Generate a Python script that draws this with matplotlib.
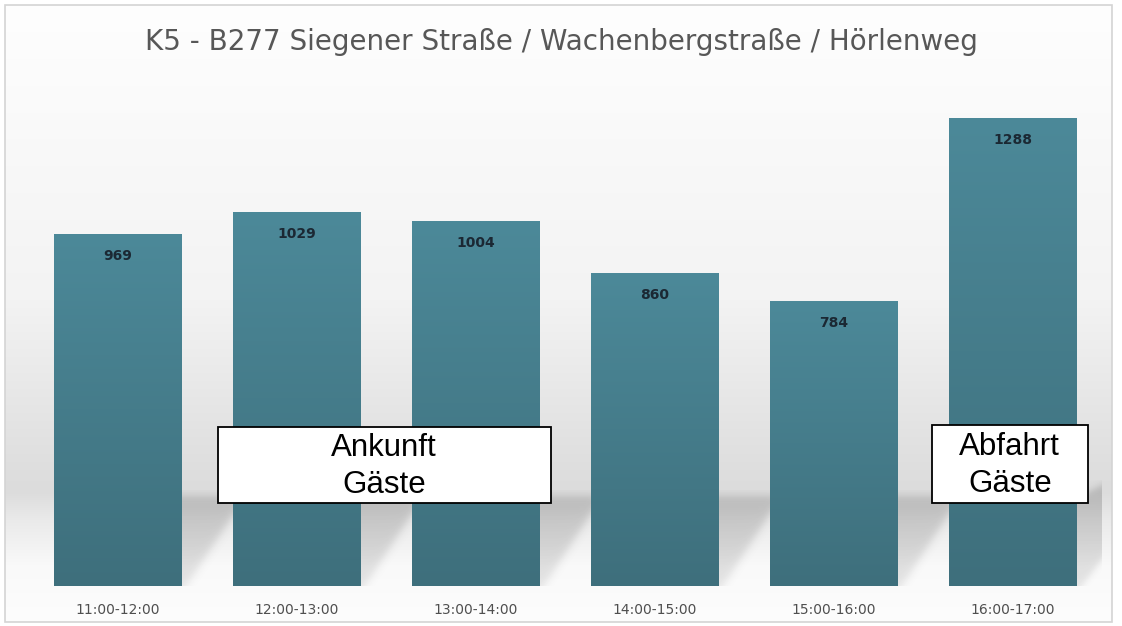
import numpy as np
import matplotlib
matplotlib.use("Agg")
import matplotlib.pyplot as plt
from matplotlib.patches import Rectangle
from matplotlib.colors import LinearSegmentedColormap

# ---- data ----
categories = ["11:00-12:00", "12:00-13:00", "13:00-14:00",
              "14:00-15:00", "15:00-16:00", "16:00-17:00"]
values = [969, 1029, 1004, 860, 784, 1288]
title = "K5 - B277 Siegener Straße / Wachenbergstraße / Hörlenweg"
box_texts = ["Ankunft\nGäste", "Abfahrt\nGäste"]

W, H = 1122, 626
fig = plt.figure(figsize=(W / 100, H / 100), dpi=100)
fig.patch.set_facecolor("white")

# ---- background (pixel coordinates) ----
bg = fig.add_axes([0, 0, 1, 1], zorder=0)
bg.set_xlim(0, W)
bg.set_ylim(H, 0)
bg.axis("off")
ys = np.array([5, 300, 470, 492, 520, 565, 622])
cs = np.array([254, 243, 222, 220, 234, 249, 253]) / 255.0
yy = np.arange(5, 623)
col = np.interp(yy, ys, cs)
img = np.repeat(col[:, None], 2, axis=1)
img = np.dstack([img, img, img])
bg.imshow(img, extent=[5, 1112, 622, 5], aspect="auto", interpolation="bilinear", zorder=0)
bg.add_patch(Rectangle((5, 5), 1107, 617, fill=False, edgecolor="#d4d4d4", lw=1.2, zorder=1))

# ---- main axes ----
ax = fig.add_axes([28 / W, 40 / H, 1074 / W, 486 / H], zorder=1)
ax.patch.set_alpha(0)
x = np.arange(len(categories))
for s in ax.spines.values():
    s.set_visible(False)
ax.set_yticks([])
ax.set_xticks(x)
ax.set_xticklabels(categories, fontsize=10, color="#4f4f4f", family="DejaVu Sans")
ax.tick_params(axis="x", length=0, pad=12)

bw = 0.71
bars = ax.bar(x, values, width=bw, color="none", edgecolor="none", zorder=3)

px_x = 1 / 179.0        # data units per pixel (x)
px_y = 1337 / 486.0     # data units per pixel (y)


def soft_shadow(w, h, t_top, x_line, soft=3.0, strength=0.2):
    """RGBA image (rows top->bottom) of a soft grey shadow, in pixel units."""
    xp = np.arange(w) + 0.5
    tp = np.arange(h) + 0.5
    XP, TP = np.meshgrid(xp, tp)
    top = 1 / (1 + np.exp(-(TP - t_top(XP)) / 2.5))
    decay = np.interp(TP, [0, 20, 60, h], [1.0, 0.95, 0.75, 0.5])
    side = 1 / (1 + np.exp((XP - x_line(TP)) / soft))
    a = np.clip(top * decay * side * strength, 0, 1)
    rgba = np.zeros((h, w, 4))
    rgba[..., :3] = 0.15
    rgba[..., 3] = a
    return rgba


y_top_px = 586 - 490   # shadow band top above baseline (pixels)
for i, b in enumerate(bars):
    xr = b.get_x() + b.get_width()
    if i < len(bars) - 1:
        w = int(round((bars[i + 1].get_x() - xr) / px_x))
        h = y_top_px
        rgba = soft_shadow(w, h, lambda X: 6 + 0 * X,
                           lambda T: 5 + (h - T) * (w - 5) / (h - 24))
    else:
        w = 36
        h = y_top_px + 10
        rgba = soft_shadow(w, h, lambda X: 18 - X * 0.5,
                           lambda T: 6 + (h - T) * 30 / 40, soft=2.5)
    ax.imshow(rgba, extent=[xr, xr + w * px_x, 0, h * px_y], origin="upper",
              aspect="auto", zorder=2, interpolation="bilinear")

# gradient bars
bar_cmap = LinearSegmentedColormap.from_list("bar", ["#4c8999", "#3e6f7c"])
for b, v in zip(bars, values):
    grad = np.linspace(0, 1, 256)[:, None]
    im = ax.imshow(grad, cmap=bar_cmap,
                   extent=[b.get_x(), b.get_x() + b.get_width(), 0, b.get_height()],
                   origin="upper", aspect="auto", zorder=3, interpolation="bilinear")
    im.set_clip_path(b)
    ax.annotate(f"{v}", (b.get_x() + b.get_width() / 2, b.get_height()),
                xytext=(0, -22), textcoords="offset pixels",
                ha="center", va="center", fontsize=10, fontweight="bold",
                color="#1b2833", zorder=5)
ax.set_xlim(-0.5, len(categories) - 0.5)
ax.set_ylim(0, 1337)

# label boxes
box_specs = [((0.561, 228), (2.42 - 0.561, 437 - 228)),
             ((4.55, 228), (5.42 - 4.55, 443 - 228))]
for (xy, (bwid, bht)), t in zip(box_specs, box_texts):
    ax.add_patch(Rectangle(xy, bwid, bht, facecolor="white", edgecolor="black",
                           lw=1.3, zorder=6, clip_on=False))
    ax.text(xy[0] + bwid / 2, xy[1] + bht / 2 - 4, t, ha="center", va="center",
            fontsize=22.5, family="Liberation Sans", color="black", zorder=7,
            linespacing=1.3)

fig.text(561 / W, 1 - 42 / H, title, ha="center", va="center", fontsize=20,
         family="DejaVu Sans", color="#575757")

fig.savefig("out.png", dpi=100, facecolor="white")
